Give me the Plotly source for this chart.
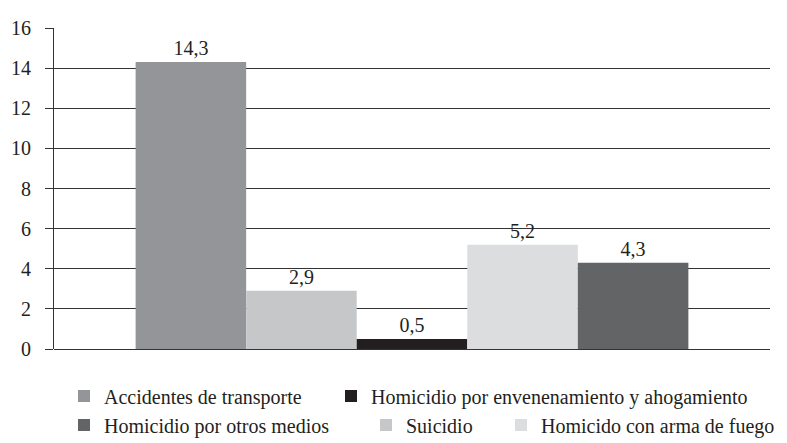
import plotly.graph_objects as go

# ---- data ----
categories = ["Total"]
series_names = [
    "Accidentes de transporte",
    "Suicidio",
    "Homicidio por envenenamiento y ahogamiento",
    "Homicido con arma de fuego",
    "Homicidio por otros medios",
]
series_values = [14.3, 2.9, 0.5, 5.2, 4.3]
series_colors = ["#939598", "#c6c7c9", "#231f20", "#dcdddf", "#636466"]
y_tickvals = [0, 2, 4, 6, 8, 10, 12, 14, 16]

legend_ids = ["legend", "legend4", "legend2", "legend5", "legend3"]

FONT = "Liberation Serif"
FS = 20
W, H = 787, 443
L, R, T, B = 54, 17, 28, 94
PW = W - L - R
PH = H - T - B

fig = go.Figure()
for name, val, col, lg in zip(series_names, series_values, series_colors, legend_ids):
    fig.add_trace(go.Bar(
        x=categories, y=[val], name=name,
        marker=dict(color=col, line=dict(width=0)),
        text=[f"{val:.1f}".replace(".", ",")],
        textposition="outside",
        textfont=dict(family=FONT, size=FS, color="#231f20"),
        cliponaxis=False,
        legend=lg,
    ))

def lx(px):
    return (px - L) / PW

def ly(py):
    return (H - B - py) / PH

leg_common = dict(orientation="h", xanchor="left", yanchor="middle",
                  font=dict(family=FONT, size=FS, color="#231f20"),
                  bgcolor="rgba(0,0,0,0)", borderwidth=0)

fig.update_layout(
    width=W, height=H,
    margin=dict(l=L, r=R, t=T, b=B, autoexpand=False),
    paper_bgcolor="white", plot_bgcolor="white",
    barmode="group", bargap=0.228, bargroupgap=0,
    font=dict(family=FONT, size=FS, color="#231f20"),
    xaxis=dict(showticklabels=False, showgrid=False, showline=False,
               zeroline=False, ticks=""),
    yaxis=dict(range=[0, 16], tickvals=y_tickvals,
               ticks="outside", ticklen=8, tickcolor="#333333", tickwidth=1,
               showline=True, linecolor="#333333", linewidth=1,
               showgrid=True, gridcolor="#333333", gridwidth=1,
               zeroline=True, zerolinecolor="#333333", zerolinewidth=1,
               ticklabelstandoff=10,
               tickfont=dict(family=FONT, size=FS, color="#231f20")),
    legend=dict(x=lx(64), y=ly(396), **leg_common),
    legend2=dict(x=lx(331), y=ly(396), **leg_common),
    legend3=dict(x=lx(64), y=ly(425), **leg_common),
    legend4=dict(x=lx(366), y=ly(425), **leg_common),
    legend5=dict(x=lx(501), y=ly(425), **leg_common),
    showlegend=True,
)

fig.write_html("out.html",
               config={"displayModeBar": False},
               post_script="document.body.style.margin='0';document.body.style.padding='0';")
